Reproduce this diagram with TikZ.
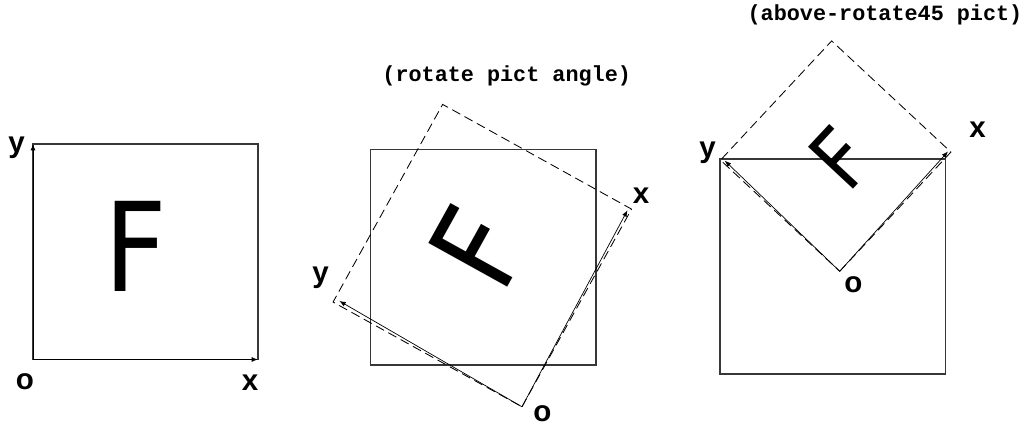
\documentclass[tikz,border=0pt]{standalone}
\usepackage{fontspec}
\usepackage{tikz}
\usetikzlibrary{arrows.meta}
\newfontfamily\lblfont{Liberation Sans}
\newfontfamily\codefont{Liberation Mono}
\newfontfamily\glyphfont{DejaVu Sans}
\definecolor{edge}{RGB}{55,55,55}

\begin{document}
\begin{tikzpicture}[x=0.025cm,y=-0.025cm,>={Latex[length=4.5pt,width=3.5pt]},
  frame/.style={draw=edge,line width=0.9pt},
  ghost/.style={draw=black,line width=0.6pt,dash pattern=on 6.5pt off 3.5pt},
  axis/.style={->,black,line width=0.5pt},
  lbl/.style={anchor=base,inner sep=0pt,font=\lblfont\bfseries\fontsize{21}{21}\selectfont},
  ttl/.style={anchor=base,font=\codefont\bfseries\fontsize{15.5}{15.5}\selectfont},
  bigF/.style={inner sep=0pt,font=\glyphfont\fontsize{88}{88}\selectfont}]
  \useasboundingbox (0,0) rectangle (1028,425);

  % plain pict
  \coordinate (o1) at (33,359.5);
  \coordinate (x1) at (258,359.5);
  \coordinate (y1) at (33,144);
  \draw[frame] (33,144) rectangle (258,359.5);
  \draw[axis] (o1) -- (x1);
  \draw[axis] (o1) -- (y1);
  \node[bigF] (f1) at (136,246.5) {\scalebox{0.88}[1]{F}};
  \node[lbl] (ly1) at (16.5,153) {y};
  \node[lbl] (lo1) at (25,390) {o};
  \node[lbl] (lx1) at (250,391) {x};

  % rotated by an angle
  \node[ttl] (t2) at (506.7,82) {(rotate pict angle)};
  \draw[frame] (370.5,149.5) rectangle (596,365);
  \begin{scope}[shift={(482.3,255.6)},rotate=61]
    \coordinate (o2) at (-113,108);
    \coordinate (x2) at (113,108);
    \coordinate (c2) at (113,-108);
    \coordinate (y2) at (-113,-108);
    \coordinate (xa2) at (110,105);
    \coordinate (ya2) at (-109,-103);
  \end{scope}
  \draw[ghost] (o2) -- (x2) -- (c2) -- (y2) -- cycle;
  \draw[axis] (o2) -- (xa2);
  \draw[axis] (o2) -- (ya2);
  \node[bigF,rotate=61] (f2) at (477.9,246.9) {\scalebox{0.88}[1]{F}};
  \node[lbl] (ly2) at (320.5,283) {y};
  \node[lbl] (lx2) at (641,204) {x};
  \node[lbl] (lo2) at (542.5,422) {o};

  % rotated 45 and put above
  \node[ttl] (t3) at (885,21) {(above-rotate45 pict)};
  \draw[frame] (720,159) rectangle (945.5,374);
  \begin{scope}[shift={(835.7,156.1)},rotate=47]
    \coordinate (o3) at (-81.5,81.5);
    \coordinate (x3) at (81.5,81.5);
    \coordinate (c3) at (81.5,-81.5);
    \coordinate (y3) at (-81.5,-81.5);
    \coordinate (xa3) at (80,79);
    \coordinate (ya3) at (-79,-78);
  \end{scope}
  \draw[ghost] (o3) -- (x3) -- (c3) -- (y3) -- cycle;
  \draw[axis] (o3) -- (xa3);
  \draw[axis] (o3) -- (ya3);
  \node[bigF,rotate=47,font=\glyphfont\fontsize{60}{60}\selectfont] (f3) at (840.9,158.2) {\scalebox{0.88}[1]{F}};
  \node[lbl] (ly3) at (707.5,158) {y};
  \node[lbl] (lx3) at (977.5,138) {x};
  \node[lbl] (lo3) at (853.5,293) {o};
\end{tikzpicture}
\end{document}
